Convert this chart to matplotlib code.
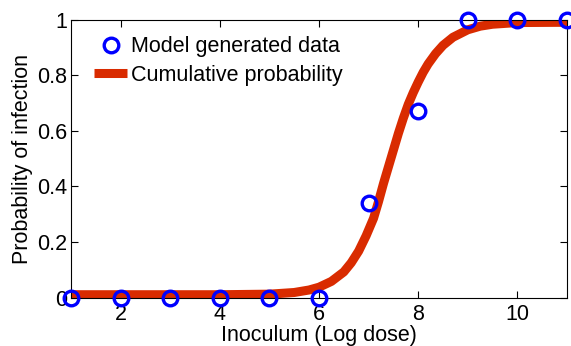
import matplotlib
matplotlib.use("Agg")
import matplotlib.pyplot as plt

plt.rcParams['font.family'] = ['Liberation Sans', 'DejaVu Sans']

# Model generated data
dose = [1, 2, 3, 4, 5, 6, 7, 8, 9, 10, 11]
prob = [0, 0, 0, 0, 0, 0, 0.34, 0.67, 1, 1, 1]

# Cumulative probability curve
curve_x = [1, 4, 5, 5.5, 5.8, 6.0, 6.25, 6.5, 6.65, 6.8, 6.95, 7.1, 7.2, 7.3, 7.4,
           7.5, 7.6, 7.7, 7.8, 7.9, 8.0, 8.1, 8.2, 8.35, 8.5, 8.7, 9.0, 9.25, 9.5, 10, 11]
curve_y = [0.01, 0.01, 0.012, 0.018, 0.027, 0.037, 0.058, 0.092, 0.125, 0.167, 0.222,
           0.285, 0.345, 0.41, 0.47, 0.53, 0.59, 0.645, 0.695, 0.737, 0.775, 0.81,
           0.84, 0.877, 0.907, 0.936, 0.963, 0.976, 0.983, 0.989, 0.99]

xticks = [2, 4, 6, 8, 10]
yticks = [0, 0.2, 0.4, 0.6, 0.8, 1]
ytick_labels = ['0', '0.2', '0.4', '0.6', '0.8', '1']

FS = 15.5

fig = plt.figure(figsize=(5.71, 3.46), dpi=100)
ax = fig.add_axes([71/571, 48.5/346, 496/571, 278/346])

ax.plot(dose, prob, 'o', mfc='none', mec='#0000ff', ms=10.5, mew=2.4,
        clip_on=False, zorder=3, label='Model generated data')
ax.plot(curve_x, curve_y, '-', color='#d92b00', lw=6.5, solid_capstyle='butt',
        zorder=2, label='Cumulative probability')

ax.set_xlim(1, 11)
ax.set_ylim(0, 1)
ax.set_xticks(xticks)
ax.set_yticks(yticks)
ax.set_yticklabels(ytick_labels)
ax.tick_params(direction='in', top=True, right=True, length=5, width=0.8,
               labelsize=FS)
ax.tick_params(axis='x', pad=4.5)
ax.tick_params(axis='y', pad=2.5)
for s in ax.spines.values():
    s.set_linewidth(0.8)

ax.set_xlabel('Inoculum (Log dose)', fontsize=FS, va='baseline')
ax.xaxis.set_label_coords(0.5, -43.5 / 278)
ax.set_ylabel('Probability of infection', fontsize=FS, labelpad=3)

leg = ax.legend(loc='upper left', bbox_to_anchor=(0.046, 0.94), frameon=False,
                fontsize=FS, handlelength=1.55, handletextpad=0.2,
                labelspacing=0.35, borderaxespad=0, borderpad=0)

fig.savefig('out.png', dpi=100)
